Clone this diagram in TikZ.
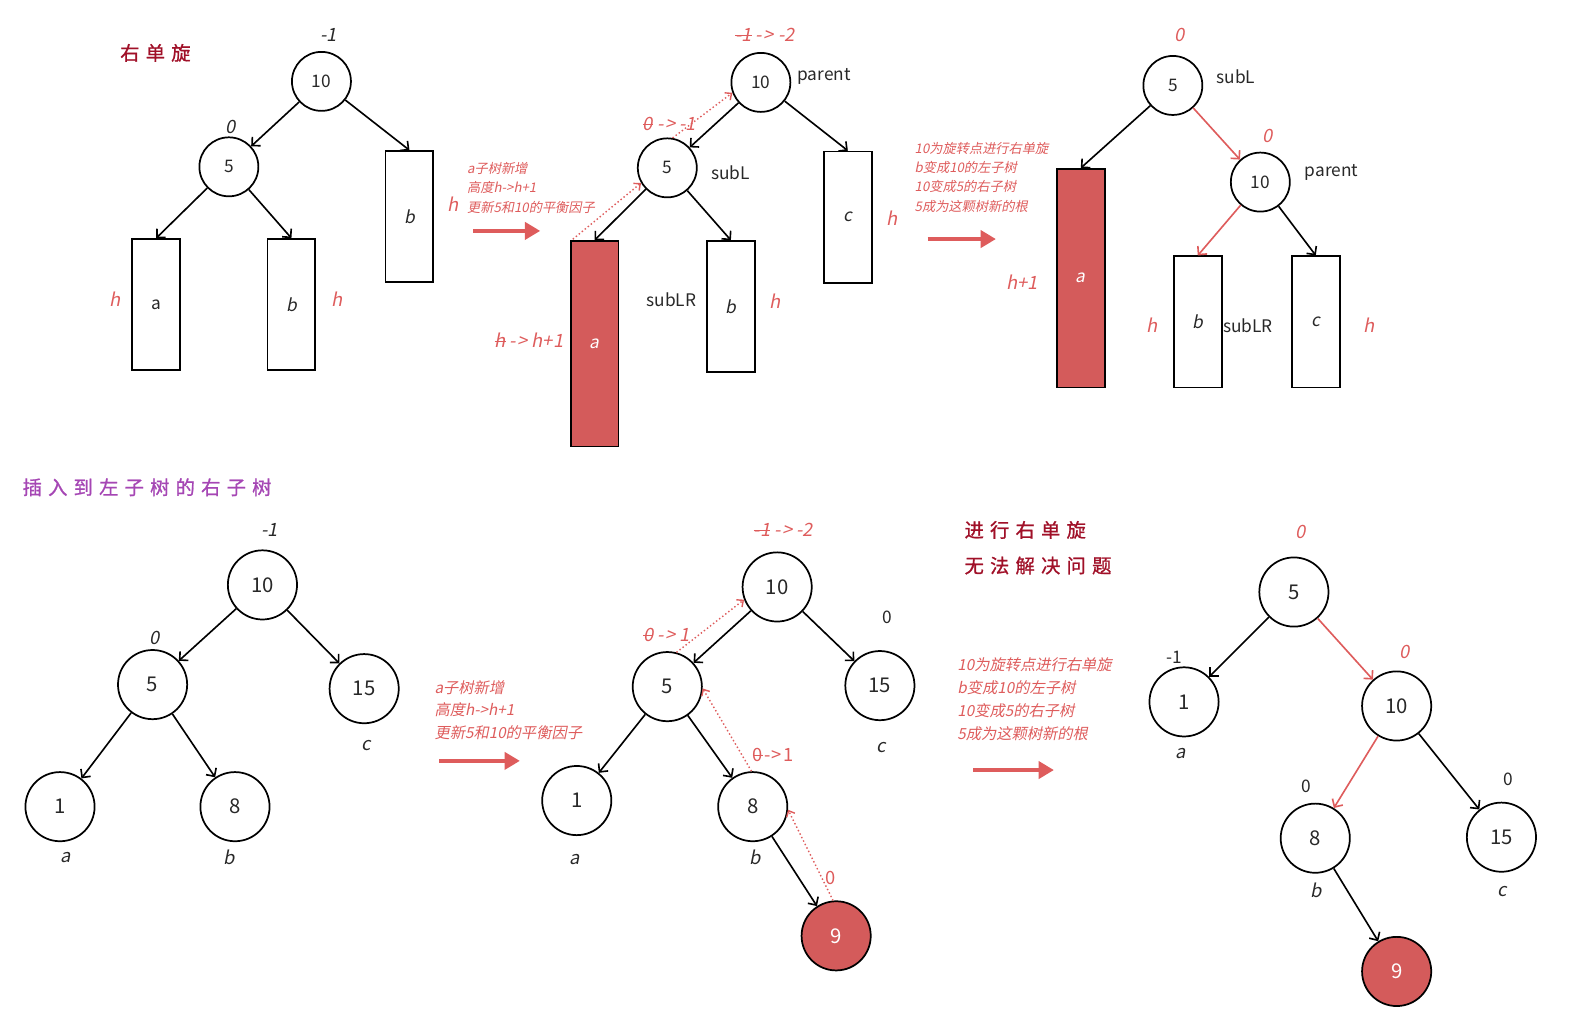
\documentclass[tikz,border=0pt]{standalone}
\usepackage{fontspec}
\setmainfont{Noto Sans CJK SC}
\newfontfamily\itf[FakeSlant=0.2]{Noto Sans CJK SC}
\newfontfamily\hand[LetterSpace=32,FakeBold=1]{Noto Sans CJK SC}
\usetikzlibrary{arrows.meta,calc}
\definecolor{redl}{RGB}{222,92,92}
\definecolor{redfill}{RGB}{212,91,91}
\definecolor{darkred}{RGB}{160,16,40}
\definecolor{purp}{RGB}{165,70,180}
\definecolor{txt}{RGB}{40,40,40}
\newcommand\strk[1]{\setbox0\hbox{#1}\rlap{\rule[0.3em]{\wd0}{0.9pt}}\box0}
\newcommand\arw{\kern4pt-\kern1.5pt>\kern4pt}
\newcommand\arws{\kern1.5pt-\kern0.5pt>\kern1.5pt}
\tikzset{
  cir/.style={circle, draw=black, line width=1.7pt, minimum size=58pt, inner sep=0pt, text=txt, font=\fontsize{17}{17}\selectfont},
  bcir/.style={cir, minimum size=68pt, font=\fontsize{20}{20}\selectfont},
  rednode/.style={fill=redfill, text=white},
  box/.style={draw=black, line width=1.7pt, minimum width=47pt, minimum height=129pt, inner sep=0pt, text=txt, font=\fontsize{17}{17}\selectfont},
  itbox/.style={box, font=\itf\fontsize{17}{17}\selectfont},
  lab/.style={text=txt, inner sep=0pt, font=\fontsize{17}{17}\selectfont},
  itlab/.style={text=txt, inner sep=0pt, font=\itf\fontsize{18}{18}\selectfont},
  rit/.style={text=redl, inner sep=0pt, font=\itf\fontsize{18}{18}\selectfont},
  rup/.style={text=redl, inner sep=0pt, font=\fontsize{18}{18}\selectfont},
  note/.style={text=redl, inner sep=0pt, anchor=north west, align=left, font=\itf\fontsize{13}{19}\selectfont},
  bignote/.style={note, font=\itf\fontsize{15}{22.5}\selectfont},
  title/.style={inner sep=0pt, anchor=west, font=\hand\fontsize{19}{35}\selectfont},
  edge/.style={draw=black, line width=1.6pt, -{Straight Barb[length=6pt,width=12pt]}},
  redge/.style={edge, draw=redl},
  dotarrow/.style={draw=redl, line width=1.4pt, dash pattern=on 1.4pt off 2.4pt, -{Straight Barb[length=5pt,width=9pt]}},
  bigarrow/.style={draw=redl, line width=3.2pt, -{Triangle[length=15pt,width=17pt]}},
}
\begin{document}
\begin{tikzpicture}[x=1pt,y=-1pt]
\useasboundingbox (0,0) rectangle (1568,1009);

% ---------- top left ----------
\node[title, text=darkred] (t1) at (118,52) {右单旋};
\node[itlab] (l1) at (323,34) {-1};
\node[cir] (a10) at (316,80) {10};
\node[itlab] (l2) at (227,125) {0};
\node[cir] (a5) at (225,164) {5};
\node[itbox] (ab1) at (402.5,213) {b};
\node[box] (aa) at (153.5,299.5) {a};
\node[itbox] (ab2) at (286.5,299.5) {b};
\node[rit] (h1) at (445,201) {h};
\node[rit] (h2) at (113,294) {h};
\node[rit] (h3) at (331,294) {h};
\draw[edge] (a10) -- (a5);
\draw[edge] (a10) -- (ab1.north);
\draw[edge] (a5) -- (aa.north);
\draw[edge] (a5) -- (ab2.north);

\node[note] (n1) at (459,159.5) {a子树新增\\高度h->h+1\\更新5和10的平衡因子};
\coordinate (p1s) at (465,227);
\coordinate (p1e) at (531,227);
\draw[bigarrow] (p1s) -- (p1e);

% ---------- top middle ----------
\node[rit] (l3) at (752,34) {\strk{-1}\arw-2};
\node[cir] (b10) at (748,81) {10};
\node[lab] (pa1) at (810,75) {parent};
\node[rit] (l4) at (658,122) {\strk{0}\arw-1};
\node[cir] (b5) at (656,165) {5};
\node[lab] (sl1) at (718,170) {subL};
\node[itbox] (bc) at (833.5,213.5) {c};
\node[itbox, rednode, minimum height=202pt] (ba) at (584.5,338) {a};
\node[itbox] (bb) at (718.5,301.5) {b};
\node[rit] (h4) at (877,215) {h};
\node[rit] (h5) at (762,296) {h};
\node[lab] (slr1) at (660,295) {subLR};
\node[rit] (h6) at (520,334) {\strk{h}\arw h+1};
\draw[edge] (b10) -- (b5);
\draw[edge] (b10) -- (bc.north);
\draw[edge] (b5) -- (ba.north);
\draw[edge] (b5) -- (bb.north);
\draw[dotarrow] ($(ba.north west)+(3,-1)$) -- (b5.210);
\draw[dotarrow] (b5.80) -- (b10.200);

\node[note] (n2) at (899,139.5) {10为旋转点进行右单旋\\b变成10的左子树\\10变成5的右子树\\5成为这颗树新的根};
\coordinate (p2s) at (912,235);
\coordinate (p2e) at (979,235);
\draw[bigarrow] (p2s) -- (p2e);

% ---------- top right ----------
\node[rit] (l5) at (1160,34) {0};
\node[cir] (c5) at (1153,84) {5};
\node[lab] (sl2) at (1215,75) {subL};
\node[rit] (l6) at (1246,134) {0};
\node[cir] (c10) at (1239,179) {10};
\node[lab] (pa2) at (1309,170) {parent};
\node[itbox, rednode, minimum height=215pt] (ca) at (1062.5,273.5) {a};
\node[itbox] (cb) at (1177.5,316.5) {b};
\node[itbox] (cc) at (1293.5,316.5) {c};
\node[rit] (h7) at (1005,277) {h+1};
\node[rit] (h8) at (1133,320) {h};
\node[lab] (slr2) at (1227,320) {subLR};
\node[rit] (h9) at (1346,320) {h};
\draw[edge] (c5) -- (ca.north);
\draw[redge] (c5) -- (c10);
\draw[redge] (c10) -- (cb.north);
\draw[edge] (c10) -- (cc.north);

% ---------- bottom left ----------
\node[title, text=purp] (t2) at (22,479) {插入到左子树的右子树};
\node[itlab] (m1) at (265,521) {-1};
\node[bcir] (d10) at (258,575) {10};
\node[itlab] (m2) at (152,627) {0};
\node[bcir] (d5) at (150,673) {5};
\node[bcir] (d15) at (358,677) {15};
\node[itlab] (m3) at (360,733) {c};
\node[bcir] (d1) at (59,793) {1};
\node[itlab] (m4) at (65,843) {a};
\node[bcir] (d8) at (231,793) {8};
\node[itlab] (m5) at (225,843) {b};
\draw[edge] (d10) -- (d5);
\draw[edge] (d10) -- (d15);
\draw[edge] (d5) -- (d1);
\draw[edge] (d5) -- (d8);

\node[bignote] (n3) at (427,668.5) {a子树新增\\高度h->h+1\\更新5和10的平衡因子};
\coordinate (p3s) at (432,748);
\coordinate (p3e) at (511,748);
\draw[bigarrow] (p3s) -- (p3e);

% ---------- bottom middle ----------
\node[rit] (m6) at (770,521) {\strk{-1}\arw-2};
\node[bcir] (e10) at (764,577) {10};
\node[lab] (m7) at (872,607) {0};
\node[bcir] (e15) at (865,674) {15};
\node[itlab] (m8) at (866,735) {c};
\node[rit] (m9) at (655,624) {\strk{0}\arw 1};
\node[bcir] (e5) at (656,675) {5};
\node[bcir] (e1) at (567,787) {1};
\node[itlab] (m10) at (565,845) {a};
\node[bcir] (e8) at (740,793) {8};
\node[itlab] (m11) at (742,843) {b};
\node[rup] (m12) at (760,742) {\strk{0}\arws 1};
\node[bcir, rednode] (e9) at (822,920) {9};
\node[rup] (m13) at (817,863) {0};
\draw[edge] (e10) -- (e5);
\draw[edge] (e10) -- (e15);
\draw[edge] (e5) -- (e1);
\draw[edge] (e5) -- (e8);
\draw[edge] (e8) -- (e9);
\draw[dotarrow] (e5.75) -- (e10.201);
\draw[dotarrow] (e8.92) -- (e5.357);
\draw[dotarrow] (e9.95) -- (e8.355);

\node[title, text=darkred, anchor=north west, align=left] (t3) at (948,512) {进行右单旋\\无法解决问题};
\node[bignote] (n4) at (941,646.5) {10为旋转点进行右单旋\\b变成10的左子树\\10变成5的右子树\\5成为这颗树新的根};
\coordinate (p4s) at (957,757);
\coordinate (p4e) at (1036,757);
\draw[bigarrow] (p4s) -- (p4e);

% ---------- bottom right ----------
\node[rit] (k1) at (1279,523) {0};
\node[bcir] (f5) at (1272,582) {5};
\node[lab] (k2) at (1154,646) {-1};
\node[bcir] (f1) at (1164,690) {1};
\node[itlab] (k3) at (1161,741) {a};
\node[rit] (k4) at (1381,641) {0};
\node[bcir] (f10) at (1373,694) {10};
\node[lab] (k5) at (1284,773) {0};
\node[bcir] (f8) at (1293,824) {8};
\node[itlab] (k6) at (1294,875) {b};
\node[lab] (k7) at (1483,766) {0};
\node[bcir] (f15) at (1476,823) {15};
\node[itlab] (k8) at (1477,876) {c};
\node[bcir, rednode] (f9) at (1373,955) {9};
\draw[edge] (f5) -- (f1);
\draw[redge] (f5) -- (f10);
\draw[redge] (f10) -- (f8);
\draw[edge] (f10) -- (f15);
\draw[edge] (f8) -- (f9);
\end{tikzpicture}
\end{document}
